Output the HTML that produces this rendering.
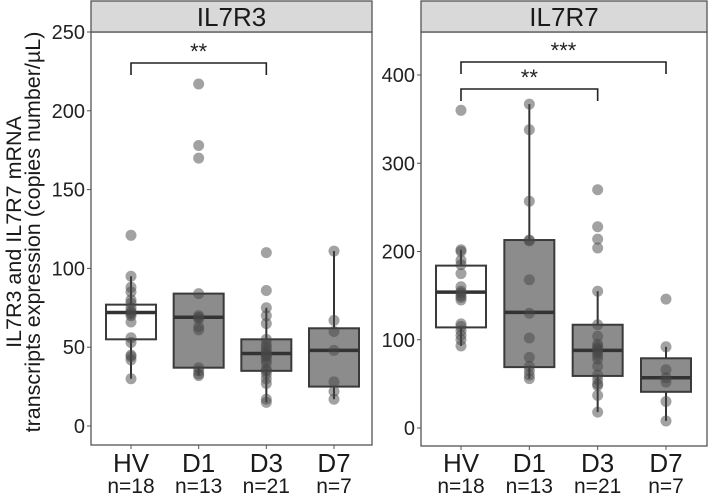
<!DOCTYPE html>
<html><head><meta charset="utf-8"><style>
html,body{margin:0;padding:0;background:#fff;}
svg{display:block;font-family:"Liberation Sans",Arial,sans-serif;}
</style></head><body>
<svg id="chart" width="709" height="495" viewBox="0 0 709 495"></svg>
<script>
const categories = ["HV","D1","D3","D7"];
const counts = ["n=18","n=13","n=21","n=7"];
const il7r3Points = [
 [121,95,88,85,80,78,75,73,72,71,70,66,56,53,45,44,42,30],
 [217,178,170,84,70,69,68,63,61,37,35,33,32],
 [110,86,75,70,65,55,52,50,48,46,45,44,42,40,36,35,33,30,27,17,15],
 [111,67,60,48,28,22,17]
];
const il7r3Box = [ // [low whisker, q1, median, q3, high whisker]
 [30,55,72,77,95],[32,37,69,84,84],[15,35,46,55,75],[17,25,48,62,111]
];
const il7r7Points = [
 [360,202,200,190,185,175,160,155,153,150,148,145,118,115,110,105,100,93],
 [367,338,257,213,212,168,130,102,80,70,65,60,56],
 [270,228,214,204,155,117,104,95,92,90,88,85,82,78,70,60,55,50,48,37,18],
 [146,92,66,57,52,30,8]
];
const il7r7Box = [
 [93,114,154,184,202],[56,69,131,213,367],[18,59,88,117,155],[8,41,57,79,92]
];
const il7r3Ticks = [0,50,100,150,200,250];
const il7r7Ticks = [0,100,200,300,400];

const NS="http://www.w3.org/2000/svg";
const svg=document.getElementById('chart');
function mk(tag,attrs,parent,text){const e=document.createElementNS(NS,tag);for(const k in attrs)e.setAttribute(k,attrs[k]);if(text!==undefined)e.textContent=text;(parent||svg).appendChild(e);return e;}

function panel(cfg){
  const g=mk('g',{});
  
  
  const y=v=>cfg.y0+(v-cfg.v0)*(cfg.y1-cfg.y0)/(cfg.v1-cfg.v0);
  const x=i=>cfg.xs[0]+i*(cfg.xs[1]-cfg.xs[0])/3;
  const bg=mk('rect',{x:cfg.left,y:32,width:cfg.right-cfg.left,height:cfg.bottom-32,fill:'#fff',stroke:'#555','stroke-width':1.3},g);
  
  const st=mk('rect',{x:cfg.left,y:1,width:cfg.right-cfg.left,height:31,fill:'#d9d9d9',stroke:'#555','stroke-width':1.3},g);
  
  const tt=mk('text',{x:(cfg.left+cfg.right)/2,y:26,'text-anchor':'middle','font-size':26,fill:'#1a1a1a'},g,cfg.title);
  
  cfg.ticks.forEach(t=>{
    mk('line',{x1:cfg.left-4,x2:cfg.left,y1:y(t),y2:y(t),stroke:'#555'},g);
    const l=mk('text',{x:cfg.left-6,y:y(t)+7,'text-anchor':'end','font-size':20,fill:'#222'},g,t);
    
  });
  categories.forEach((c,i)=>{
    const cx=x(i);
    mk('line',{x1:cx,x2:cx,y1:cfg.bottom,y2:cfg.bottom+4,stroke:'#555'},g);
    const l=mk('text',{x:cx,y:472,'text-anchor':'middle','font-size':26,fill:'#1a1a1a'},g,c);
    
    const n=mk('text',{x:cx,y:493,'text-anchor':'middle','font-size':21,fill:'#1a1a1a'},g,counts[i]);
    
    const b=cfg.box[i];const w=25;
    mk('line',{x1:cx,x2:cx,y1:y(b[0]),y2:y(b[1]),stroke:'#333','stroke-width':2},g);
    mk('line',{x1:cx,x2:cx,y1:y(b[3]),y2:y(b[4]),stroke:'#333','stroke-width':2},g);
    const r=mk('rect',{x:cx-w,y:y(b[3]),width:2*w,height:y(b[1])-y(b[3]),fill:i===0?'#fff':'#8c8c8c',stroke:'#3a3a3a','stroke-width':2},g);
    
    mk('line',{x1:cx-w,x2:cx+w,y1:y(b[2]),y2:y(b[2]),stroke:'#333','stroke-width':3.5},g);
    cfg.pts[i].forEach(v=>{
      const p=mk('circle',{cx:cx,cy:y(v),r:5.5,fill:'rgba(70,70,70,0.5)'},g);
      
    });
  });
  cfg.brackets.forEach(br=>{
    const a=x(br.from),b=x(br.to);
    const p=mk('path',{d:`M${a},${br.y+12}V${br.y}H${b}V${br.y+12}`,fill:'none',stroke:'#222','stroke-width':1.6},g);
    
    const s=mk('text',{x:(a+b)/2,y:br.y-4,'text-anchor':'middle','font-size':22,fill:'#222'},g,br.label);
    
  });
}
panel({name:'panel-il7r3',title:'IL7R3',left:91,right:372,bottom:445,xs:[131,334],v0:0,v1:250,y0:426,y1:32,ticks:il7r3Ticks,pts:il7r3Points,box:il7r3Box,brackets:[{from:0,to:2,y:63,label:'**'}]});
panel({name:'panel-il7r7',title:'IL7R7',left:421,right:707,bottom:446,xs:[461,666],v0:0,v1:400,y0:428,y1:75,ticks:il7r7Ticks,pts:il7r7Points,box:il7r7Box,brackets:[{from:0,to:3,y:62,label:'***'},{from:0,to:2,y:89,label:'**'}]});
const yl=mk('text',{transform:'translate(21,232) rotate(-90)','text-anchor':'middle','font-size':21.5,fill:'#1a1a1a'});

mk('tspan',{x:0,dy:0},yl,'IL7R3 and IL7R7 mRNA');
mk('tspan',{x:0,dy:19},yl,'transcripts expression (copies number/µL)');
</script>
</body></html>
